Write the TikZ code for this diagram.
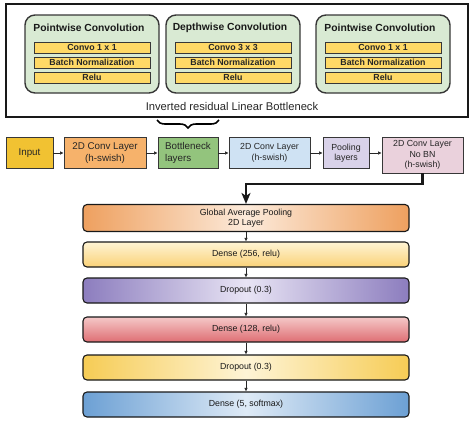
\documentclass[tikz,border=0pt]{standalone}
\usepackage{fontspec}
\setmainfont{Liberation Sans}
\usetikzlibrary{
  arrows.meta,
  positioning,
  calc,
  decorations.pathreplacing
}
\definecolor{xgreen}{RGB}{217,234,211}
\definecolor{xbar}{RGB}{255,217,102}
\definecolor{xinput}{RGB}{241,194,50}
\definecolor{xorange}{RGB}{246,178,107}
\definecolor{xleaf}{RGB}{147,196,125}
\definecolor{xsky}{RGB}{207,226,243}
\definecolor{xlilac}{RGB}{217,210,233}
\definecolor{xrose}{RGB}{234,209,220}
\definecolor{xedge}{RGB}{55,55,55}
\definecolor{xgapo}{RGB}{238,160,95}
\definecolor{xgapi}{RGB}{252,234,218}
\definecolor{xyellowt}{RGB}{255,244,212}
\definecolor{xyellowb}{RGB}{250,210,120}
\definecolor{xpurpo}{RGB}{140,125,190}
\definecolor{xpurpi}{RGB}{232,228,244}
\definecolor{xredt}{RGB}{245,200,200}
\definecolor{xredb}{RGB}{222,110,115}
\definecolor{xgoldo}{RGB}{246,204,85}
\definecolor{xgoldi}{RGB}{254,244,214}
\definecolor{xblueo}{RGB}{108,160,212}
\definecolor{xbluei}{RGB}{222,234,246}

\begin{document}
\begin{tikzpicture}[
  x=1pt, y=-1pt,
  group/.style={
    draw=xedge, fill=xgreen, rounded corners=10pt, line width=1.4pt,
    minimum width=134pt, minimum height=78pt
  },
  grouptitle/.style={font=\fontsize{10.3}{12}\selectfont\bfseries, text=black!90},
  opbar/.style={
    draw=xedge, fill=xbar, line width=1pt,
    minimum width=116pt, minimum height=11pt, inner sep=0pt,
    font=\fontsize{8.8}{10}\selectfont\bfseries, text=black!85
  },
  block/.style={
    draw=xedge, fill=#1, line width=0.8pt,
    minimum height=31pt, inner sep=1pt, align=center,
    font=\fontsize{9.8}{11.8}\selectfont, text=black!85
  },
  smallblock/.style={block=#1, font=\fontsize{8.8}{10.5}\selectfont},
  stackbox/.style={
    draw=black!90, rounded corners=4pt, line width=1.1pt,
    minimum width=326pt, minimum height=25pt, inner sep=1pt, align=center,
    font=\fontsize{8.8}{10.5}\selectfont, text=black!90
  },
  hshade/.style 2 args={left color=#1, right color=#1, middle color=#2},
  arrow/.style={-{Latex[length=3.5pt,width=3.5pt]}, line width=0.6pt, color=black!85},
  bigarrow/.style={-{Stealth[length=11pt,width=9pt,inset=3pt]}, line width=2.2pt, color=black!90}
]
  \useasboundingbox (0,0) rectangle (475,424);

  % inverted residual block
  \node[draw=black!90, line width=1.4pt, minimum width=462pt, minimum height=113pt] (outer) at (237,60.5) {};
  \foreach \x/\name/\title/\kernel in {92/pwa/Pointwise/1 x 1, 233/dw/Depthwise/3 x 3, 383/pwb/Pointwise/1 x 1} {
    \node[group] (\name) at (\x,54) {};
    \node[grouptitle] (\name-t) at (\x-3,28) {\title{} Convolution};
    \node[opbar] (\name-a) at (\x,47.5) {Convo \kernel};
    \node[opbar] (\name-b) at (\x,62.5) {Batch Normalization};
    \node[opbar] (\name-c) at (\x,77.5) {Relu};
  }
  \node[font=\fontsize{11.2}{13}\selectfont, text=black!85] (irlb) at (232,106) {Inverted residual Linear Bottleneck};
  \coordinate (brR) at (219,120);
  \coordinate (brL) at (157,120);
  \draw[decorate, decoration={brace, amplitude=8pt}, line width=1.6pt] (brR) -- (brL);

  % backbone row
  \node[block=xinput, minimum width=47pt]      (in)    at (29.5,153) {Input};
  \node[block=xorange, minimum width=82pt]     (conva) at (105,153)  {2D Conv Layer\\(h-swish)};
  \node[block=xleaf, minimum width=60pt, align=left] (bneck) at (188,153) {Bottleneck\\layers};
  \node[smallblock=xsky, minimum width=81pt]   (convb) at (269.5,153) {2D Conv Layer\\(h-swish)};
  \node[smallblock=xlilac, minimum width=46pt] (pool)  at (346,153)  {Pooling\\layers};
  \node[smallblock=xrose, minimum width=81pt, minimum height=36pt] (convc) at (422.5,155) {2D Conv Layer\\No BN\\(h-swish)};

  \foreach \from/\to in {in/conva, conva/bneck, bneck/convb, convb/pool}
    \draw[arrow] (\from.east) -- (\to.west);
  \draw[arrow] (pool.east) -- (pool.east -| convc.west);

  % classifier head
  \node[stackbox, hshade={xgapo}{xgapi}, minimum height=27pt] (gap) at (246,218) {Global Average Pooling\\2D Layer};
  \node[stackbox, top color=xyellowt, bottom color=xyellowb] (dense1) at (246,254.5) {Dense (256, relu)};
  \node[stackbox, hshade={xpurpo}{xpurpi}] (drop1) at (246,290.5) {Dropout (0.3)};
  \node[stackbox, top color=xredt, bottom color=xredb] (dense2) at (246,329.5) {Dense (128, relu)};
  \node[stackbox, hshade={xgoldo}{xgoldi}] (drop2) at (246,367.5) {Dropout (0.3)};
  \node[stackbox, hshade={xblueo}{xbluei}] (dense3) at (246,404.5) {Dense (5, softmax)};

  \coordinate (turn) at (0,184);
  \draw[bigarrow] (convc.south) -- (convc.south |- turn) -| (gap.north);

  \foreach \from/\to in {gap/dense1, dense1/drop1, drop1/dense2, dense2/drop2, drop2/dense3}
    \draw[arrow] (\from.south) -- (\to.north);
\end{tikzpicture}
\end{document}
